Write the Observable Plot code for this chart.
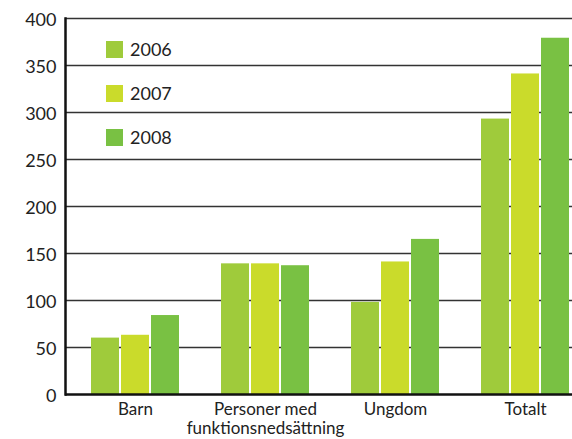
<!DOCTYPE html>
<html>
<head>
<meta charset="utf-8">
<script src="https://cdn.jsdelivr.net/npm/d3@7"></script>
<script src="https://cdn.jsdelivr.net/npm/@observablehq/plot@0.6"></script>
<style>
  html, body { margin: 0; padding: 0; background: #fff; }
  #wrap { position: relative; width: 572px; height: 439px; font-family: Lato, "Open Sans", sans-serif; }
  #legend { position: absolute; left: 106px; top: 40px; }
  .row { display: flex; align-items: center; height: 18px; margin-bottom: 26px; font-size: 18px; color: #222; }
  .sw { width: 17px; height: 17px; margin-right: 7px; }
</style>
</head>
<body>
<div id="wrap"><div id="legend"></div></div>
<script>
const categories = ["Barn", "Personer med\nfunktionsnedsättning", "Ungdom", "Totalt"];
const years = ["2006", "2007", "2008"];
const v2006 = [60, 139, 98, 293];
const v2007 = [63, 139, 141, 341];
const v2008 = [84, 137, 165, 379];
const colors = ["#9fcb3b", "#cadb2b", "#79c143"];
const yTicks = [0, 50, 100, 150, 200, 250, 300, 350, 400];

const series = [v2006, v2007, v2008];

const bars = series.map((vals, i) =>
  Plot.barY(categories, {
    x: d => d,
    y: (d, j) => vals[j],
    fill: colors[i],
    insetLeft: i * 30,
    insetRight: (2 - i) * 30
  })
);

const chart = Plot.plot({
  width: 572,
  height: 439,
  marginLeft: 65,
  marginRight: 0,
  marginTop: 18,
  marginBottom: 45,
  style: { fontFamily: "Lato, 'Open Sans', sans-serif", fontSize: "17px", color: "#222", background: "#fff" },
  x: { domain: categories, range: [65, 595], paddingInner: 42 / 130, paddingOuter: 0.2, align: 0.5, label: null },
  y: { domain: [0, 400], label: null },
  marks: [
    Plot.ruleY(yTicks.filter(t => t > 0), { stroke: "#333", strokeWidth: 1.5 }),
    ...bars,
    Plot.ruleY([0], { stroke: "#111", strokeWidth: 2.5 }),
    Plot.frame({ anchor: "left", stroke: "#111", strokeWidth: 2.5 }),
    Plot.axisY({ ticks: yTicks, tickSize: 0, tickPadding: 9, dy: 2, fontSize: 18, label: null }),
    Plot.axisX({ tickSize: 0, tickPadding: 7, fontSize: 17, lineAnchor: "top", lineHeight: 1.12, label: null })
  ]
});

document.getElementById("wrap").prepend(chart);

const legend = document.getElementById("legend");
years.forEach((y, i) => {
  const row = document.createElement("div");
  row.className = "row";
  const sw = document.createElement("div");
  sw.className = "sw";
  sw.style.background = colors[i];
  const t = document.createElement("span");
  t.textContent = y;
  row.appendChild(sw);
  row.appendChild(t);
  legend.appendChild(row);
});
</script>
</body>
</html>
